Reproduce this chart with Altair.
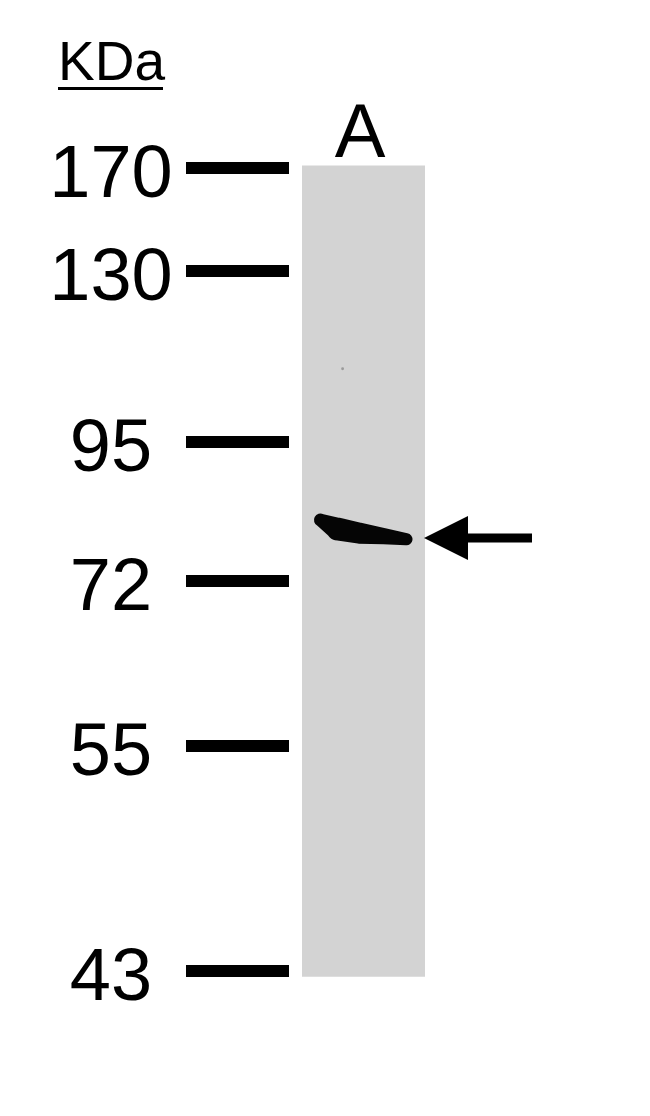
import altair as alt
import pandas as pd

# ---- data read from the blot ----
marker_kda = [170, 130, 95, 72, 55, 43]
marker_labels = ["170", "130", "95", "72", "55", "43"]

lane_names = ["A"]
lane_top_kda = [171.0]
lane_bottom_kda = [42.7]

# band profile across lane A (fraction of lane width, apparent kDa, band thickness)
band_pos = [0.15, 0.29, 0.47, 0.67, 0.85]
band_kda = [82.1, 80.6, 79.9, 79.4, 78.9]
band_thick = [13, 23, 21, 16, 12]

arrow_kda = [79.1]
speck_pos = [0.33]
speck_kda = [110.0]

FONT = "Liberation Sans"

markers = pd.DataFrame({"kda": marker_kda, "label": marker_labels})
lane = pd.DataFrame({"lane": lane_names, "kda": lane_top_kda, "kda2": lane_bottom_kda})
band = pd.DataFrame({"pos": band_pos, "kda": band_kda, "thick": band_thick})
arrow = pd.DataFrame({"kda": arrow_kda})
speck = pd.DataFrame({"pos": speck_pos, "kda": speck_kda})
title = pd.DataFrame({"t": ["KDa"]})

# migration scale: kDa -> gel row (piecewise, calibrated on the ladder)
yscale = alt.Scale(domain=marker_kda, range=[160, 263, 434, 573, 738, 963], zero=False, nice=False)
Y = alt.Y("kda:Q", scale=yscale, axis=None)
xlane = alt.Scale(domain=[0, 1], range=[294, 417], zero=False, nice=False)

lane_rect = alt.Chart(lane).mark_rect(color="#d3d3d3").encode(
    x=alt.value(294), x2=alt.value(417), y=Y, y2="kda2:Q"
)
lane_label = alt.Chart(lane).mark_text(
    font=FONT, fontSize=76, align="center", baseline="alphabetic", color="#000"
).encode(x=alt.value(352), y=alt.value(149), text="lane:N")

ladder = alt.Chart(markers).mark_rule(color="#000", strokeWidth=12).encode(
    x=alt.value(178), x2=alt.value(281), y=Y
)
ladder_text = alt.Chart(markers).mark_text(
    font=FONT, fontSize=74, align="center", baseline="alphabetic", dy=29, color="#000"
).encode(x=alt.value(103), y=Y, text="label:N")

kda_text = alt.Chart(title).mark_text(
    font=FONT, fontSize=55, align="left", baseline="alphabetic", color="#000"
).encode(x=alt.value(50), y=alt.value(72), text="t:N")
kda_line = alt.Chart(title).mark_rule(color="#000", strokeWidth=3).encode(
    x=alt.value(50), x2=alt.value(155), y=alt.value(80.5)
)

band_mark = alt.Chart(band).mark_trail(color="#050505").encode(
    x=alt.X("pos:Q", scale=xlane, axis=None),
    y=Y,
    size=alt.Size("thick:Q", scale=None, legend=None),
    order="pos:Q",
)
speck_mark = alt.Chart(speck).mark_point(filled=True, color="#9a9a9a", size=8, opacity=1).encode(
    x=alt.X("pos:Q", scale=xlane, axis=None), y=Y
)

shaft = alt.Chart(arrow).mark_rule(color="#000", strokeWidth=9).encode(
    x=alt.value(452), x2=alt.value(524), y=Y
)
head = alt.Chart(arrow).mark_point(
    shape="M-1,0L1,-1L1,1Z", filled=True, color="#000", size=1936, opacity=1
).encode(x=alt.value(438), y=Y)

chart = alt.layer(
    lane_rect, lane_label, ladder, ladder_text, kda_text, kda_line,
    band_mark, speck_mark, shaft, head
).properties(
    width=634, height=1100, padding=0, autosize=alt.AutoSizeParams(type="none"),
    background="white"
).configure_view(stroke=None)

chart.save("out.html", embed_options={"renderer": "svg", "actions": False})
